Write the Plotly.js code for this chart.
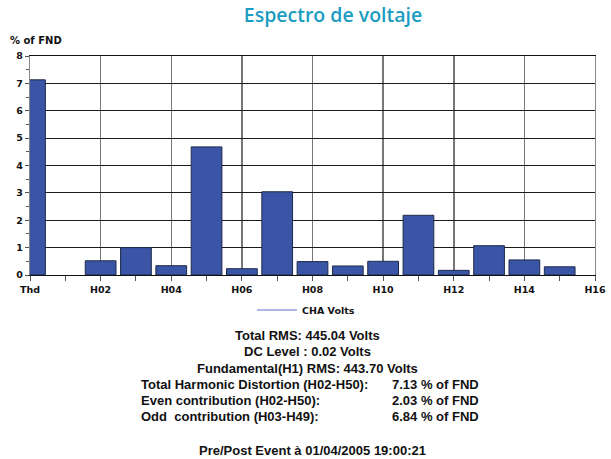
<!DOCTYPE html>
<html>
<head>
<meta charset="utf-8">
<script src="https://cdn.plot.ly/plotly-3.0.1.min.js"></script>
<style>html,body{margin:0;padding:0;background:#fff;}#chart{width:611px;height:459px;}</style>
</head>
<body>
<div id="chart"></div>
<script>
// Harmonic order (0 = Thd) and magnitude in % of fundamental
const harmonicOrder = [0, 2, 3, 4, 5, 6, 7, 8, 9, 10, 11, 12, 13, 14, 15];
const percentOfFnd = [7.13, 0.52, 1.00, 0.34, 4.68, 0.23, 3.04, 0.49, 0.33, 0.50, 2.18, 0.17, 1.07, 0.55, 0.30];
const tickPositions = [0, 2, 4, 6, 8, 10, 12, 14, 16];
const tickLabels = ["Thd", "H02", "H04", "H06", "H08", "H10", "H12", "H14", "H16"];
const seriesName = "CHA Volts";
const summaryCentered = [
  "Total RMS: 445.04 Volts",
  "DC Level : 0.02 Volts",
  "Fundamental(H1) RMS: 443.70 Volts"
];
const summaryLabels = [
  "Total Harmonic Distortion (H02-H50):",
  "Even contribution (H02-H50):",
  "Odd  contribution (H03-H49):"
];
const summaryValues = ["7.13 % of FND", "2.03 % of FND", "6.84 % of FND"];
const eventLine = "Pre/Post Event à 01/04/2005 19:00:21";

const W = 611, H = 459;
const M = {l: 30, r: 16, t: 56, b: 184};
const pw = W - M.l - M.r, ph = H - M.t - M.b;
const px = x => (x - M.l) / pw;
const py = y => (H - M.b - y) / ph;

const textFont = {family: "Liberation Sans, Arial, sans-serif", size: 13, color: "#111", weight: "bold"};
const smallFont = {family: "DejaVu Sans, Verdana, sans-serif", size: 9.5, color: "#111", weight: "bold"};
const annotations = [];
const centerY = [335, 351.5, 368];
summaryCentered.forEach((t, i) => annotations.push({
  text: t, xref: "paper", yref: "paper", x: px(307), y: py(centerY[i]),
  xanchor: "center", yanchor: "middle", showarrow: false, font: textFont
}));
const rowY = [384.5, 400.5, 416];
summaryLabels.forEach((t, i) => annotations.push({
  text: t, xref: "paper", yref: "paper", x: px(139), y: py(rowY[i]),
  xanchor: "left", yanchor: "middle", showarrow: false, font: textFont
}));
summaryValues.forEach((t, i) => annotations.push({
  text: t, xref: "paper", yref: "paper", x: px(481), y: py(rowY[i]),
  xanchor: "right", yanchor: "middle", showarrow: false, font: textFont
}));
annotations.push({
  text: eventLine, xref: "paper", yref: "paper", x: px(312), y: py(450),
  xanchor: "center", yanchor: "middle", showarrow: false, font: textFont
});
annotations.push({
  text: "% of FND", xref: "paper", yref: "paper", x: px(8), y: py(40),
  xanchor: "left", yanchor: "middle", showarrow: false,
  font: {family: "DejaVu Sans, Verdana, sans-serif", size: 10, color: "#111", weight: "bold"}
});

const traces = [
  {
    type: "bar", x: harmonicOrder, y: percentOfFnd, width: 0.87,
    marker: {color: "#3a55a6", line: {color: "#1f2a4a", width: 1}},
    showlegend: false, hoverinfo: "skip"
  },
  {
    type: "scatter", mode: "lines", x: [null], y: [null], name: seriesName,
    line: {color: "#5a6fc4", width: 1}, showlegend: true
  }
];

const layout = {
  width: W, height: H,
  margin: M,
  paper_bgcolor: "#fff", plot_bgcolor: "#fff",
  title: {
    text: "Espectro de voltaje",
    font: {family: "Open Sans, sans-serif", size: 19.5, color: "#1b9cc1", weight: 600},
    x: px(333), xref: "paper", xanchor: "center",
    y: 1 - 15 / H, yanchor: "middle"
  },
  showlegend: true,
  legend: {
    x: px(252), y: py(310), xanchor: "left", yanchor: "middle",
    orientation: "h", bgcolor: "rgba(0,0,0,0)", itemwidth: 40,
    font: {family: "DejaVu Sans, Verdana, sans-serif", size: 9.5, color: "#111", weight: "bold"}
  },
  xaxis: {
    range: [0, 16], tickmode: "array", tickvals: tickPositions, ticktext: tickLabels,
    showgrid: true, gridcolor: "#777", gridwidth: 1.5,
    showline: true, linecolor: "#111", linewidth: 1.3, mirror: true,
    ticks: "outside", ticklen: 5, tickcolor: "#555",
    minor: {dtick: 1, tick0: 0, ticks: "outside", ticklen: 5, tickcolor: "#555", showgrid: false},
    tickfont: smallFont,
    zeroline: false, fixedrange: true
  },
  yaxis: {
    range: [0, 8], dtick: 1, tick0: 0,
    showgrid: true, gridcolor: "#1a1a1a", gridwidth: 1.2,
    showline: true, linecolor: "#888", linewidth: 1.3, mirror: true,
    ticks: "outside", ticklen: 4, tickcolor: "#555",
    minor: {dtick: 0.5, ticks: "outside", ticklen: 3, tickcolor: "#555", showgrid: false},
    tickfont: smallFont,
    zeroline: false, fixedrange: true
  },
  bargap: 0,
  annotations: annotations
};

Plotly.newPlot("chart", traces, layout, {staticPlot: true, displayModeBar: false});
</script>
</body>
</html>
